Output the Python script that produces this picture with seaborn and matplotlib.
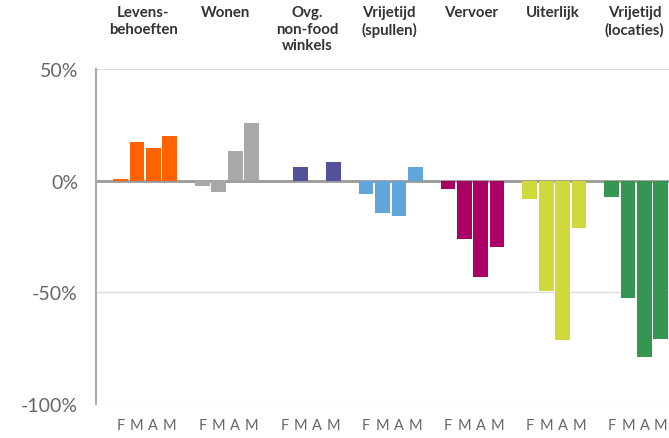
import numpy as np
import pandas as pd
import seaborn as sns
import matplotlib.pyplot as plt
from matplotlib.transforms import blended_transform_factory

groups = ['Levens-\nbehoeften', 'Wonen', 'Ovg.\nnon-food\nwinkels', 'Vrijetijd\n(spullen)',
          'Vervoer', 'Uiterlijk', 'Vrijetijd\n(locaties)']
months = ['F', 'M', 'A', 'M']
levens = [0.8, 17.4, 14.7, 20.2]
wonen = [-2.4, -5.0, 13.3, 26.0]
ovg = [0.0, 6.3, 0.0, 8.3]
spullen = [-6.1, -14.6, -15.8, 6.0]
vervoer = [-3.9, -26.3, -43.1, -29.6]
uiterlijk = [-8.1, -49.4, -71.3, -21.0]
locaties = [-7.1, -52.6, -78.8, -70.8]
colors = ['#FF6200', '#A8A8A8', '#525199', '#60A6DA', '#AB0066', '#D0D93C', '#349651']

series = [levens, wonen, ovg, spullen, vervoer, uiterlijk, locaties]

# one empty slot in front of every group of four months
rows = []
order = []
for g, (name, vals) in enumerate(zip(groups, series)):
    order.append('gap%d' % g)
    for m, v in enumerate(vals):
        slot = '%d_%d' % (g, m)
        order.append(slot)
        rows.append({'slot': slot, 'value': v, 'group': name, 'month': months[m]})
df = pd.DataFrame(rows)

sns.set_style('white')
plt.rcParams['font.family'] = ['Lato', 'DejaVu Sans']

fig = plt.figure(figsize=(6.69, 4.39), dpi=100)
ax = fig.add_axes([96 / 669, 1 - 405 / 439, 573 / 669, 335 / 439])

sns.barplot(data=df, x='slot', y='value', hue='group', order=order, dodge=False,
            palette=colors, saturation=1, width=0.9, linewidth=0,
            legend=False, ax=ax, zorder=2)

ax.set_ylim(-100, 50)
ax.set_xlim(-0.5, len(order) - 0.5)
ax.set_yticks([50, 0, -50, -100])
ax.set_yticklabels(['50%', '0%', '-50%', '-100%'], fontsize=14, color='#666666')
for y in [50, -50, -100]:
    ax.axhline(y, color='#dddddd', lw=1, zorder=0)
ax.axhline(0, color='#999999', lw=2, zorder=1)

ticks = [i for i, s in enumerate(order) if not s.startswith('gap')]
ax.set_xticks(ticks)
ax.set_xticklabels(months * len(groups), fontsize=10.5, color='#666666')
ax.tick_params(axis='x', length=0, pad=10)
ax.tick_params(axis='y', length=0, pad=13)
ax.set_xlabel('')
ax.set_ylabel('')

for side in ['top', 'right', 'bottom']:
    ax.spines[side].set_visible(False)
ax.spines['left'].set_color('#aaaaaa')
ax.spines['left'].set_linewidth(1.5)

trans = blended_transform_factory(ax.transData, fig.transFigure)
for g, name in enumerate(groups):
    ax.text(g * 5 + 2.4, 1 - 6 / 439, name, transform=trans, ha='center', va='top',
            fontsize=10.8, fontweight='bold', color='#333333', linespacing=1.25)

fig.savefig('out.png', dpi=100)
